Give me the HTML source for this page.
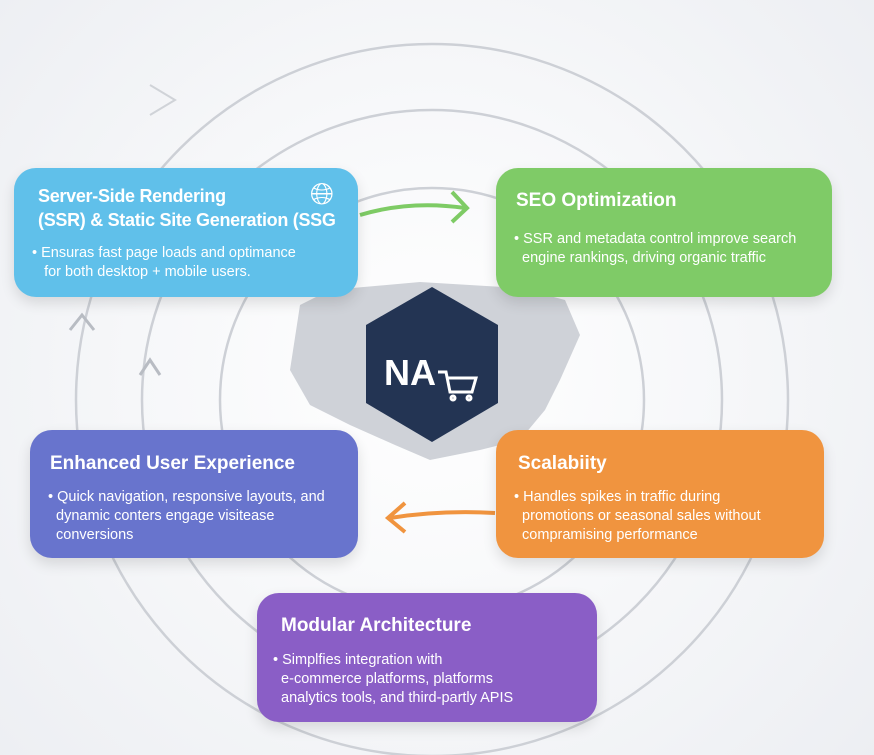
<!DOCTYPE html>
<html><head><meta charset="utf-8"><style>
body{margin:0;width:874px;height:755px;overflow:hidden;font-family:"Liberation Sans",sans-serif;background:radial-gradient(circle at 430px 370px,#ffffff 0,#f6f7f9 300px,#eceef2 600px);position:relative}
.b{position:absolute;border-radius:22px;color:#fff;box-shadow:0 6px 14px rgba(0,0,0,.12)}
.b h3{margin:0;position:absolute;font-size:19px;font-weight:bold;line-height:24px;white-space:nowrap}
.b p{margin:0;position:absolute;font-size:14.5px;line-height:19px;white-space:nowrap}
.ic{position:absolute;font-size:30px;color:#fff}
svg{position:absolute;left:0;top:0}
</style></head><body>
<svg width="874" height="755">
<g fill="none" stroke="#cdd0d6" stroke-width="2.5">
<circle cx="432" cy="400" r="212"/>
<circle cx="432" cy="400" r="290"/>
<circle cx="432" cy="400" r="356"/>
</g>
<path d="M300 305 L330 290 L420 282 L520 288 L565 300 L580 335 L560 380 L545 410 L520 440 L480 450 L430 460 L395 445 L350 425 L310 405 L290 370 Z" fill="#cfd2d8"/>
<polygon points="432,287 498,325 498,403 432,442 366,403 366,325" fill="#233453"/>
<text x="384" y="385" font-family="Liberation Sans" font-weight="bold" font-size="36" fill="#fff">NA</text>
<g stroke="#fff" stroke-width="3" fill="none"><path d="M438 372 L446 372 L450 392 L472 392 L476 378 L448 378"/><circle cx="453" cy="398" r="2"/><circle cx="469" cy="398" r="2"/></g>
<path d="M360 215 Q410 200 465 208" stroke="#7ecb65" stroke-width="4" fill="none"/>
<path d="M452 192 L467 208 L452 222" stroke="#7ecb65" stroke-width="4" fill="none"/>
<path d="M495 513 Q440 510 390 518" stroke="#f0943f" stroke-width="4" fill="none"/>
<path d="M405 503 L388 518 L405 532" stroke="#f0943f" stroke-width="4" fill="none"/>
<path d="M70 330 L82 315 L94 330 M140 375 L150 360 L160 375" stroke="#b8bcc3" stroke-width="3" fill="none"/>
<path d="M150 85 L175 100 L150 115" stroke="#d0d3d8" stroke-width="2" fill="none"/>
</svg>
<div class="b" style="left:14px;top:168px;width:344px;height:129px;background:#60c0ea">
<h3 style="left:24px;top:16px;font-size:18px;letter-spacing:-0.3px">Server-Side Rendering<br>(SSR) &amp; Static Site Generation (SSG</h3>
<p style="left:18px;top:76px">• Ensuras fast page loads and optimance<br>&nbsp;&nbsp;&nbsp;for both desktop + mobile users.</p>
<div class="ic" style="left:296px;top:10px">🌐︎</div></div>
<div class="b" style="left:496px;top:168px;width:336px;height:129px;background:#7fcb67">
<h3 style="left:20px;top:21px">SEO Optimization</h3>
<p style="left:18px;top:62px">• SSR and metadata control improve search<br>&nbsp;&nbsp;engine rankings, driving organic traffic</p></div>
<div class="b" style="left:30px;top:430px;width:328px;height:128px;background:#6874cd">
<h3 style="left:20px;top:22px">Enhanced User Experience</h3>
<p style="left:18px;top:58px">• Quick navigation, responsive layouts, and<br>&nbsp;&nbsp;dynamic conters engage visitease<br>&nbsp;&nbsp;conversions</p></div>
<div class="b" style="left:496px;top:430px;width:328px;height:128px;background:#f0943f">
<h3 style="left:22px;top:22px">Scalabiity</h3>
<p style="left:18px;top:58px">• Handles spikes in traffic during<br>&nbsp;&nbsp;promotions or seasonal sales without<br>&nbsp;&nbsp;compramising performance</p></div>
<div class="b" style="left:257px;top:593px;width:340px;height:129px;background:#8a5ec6">
<h3 style="left:24px;top:21px">Modular Architecture</h3>
<p style="left:16px;top:58px">• Simplfies integration with<br>&nbsp;&nbsp;e-commerce platforms, platforms<br>&nbsp;&nbsp;analytics tools, and third-partly APIS</p></div>
</body></html>
